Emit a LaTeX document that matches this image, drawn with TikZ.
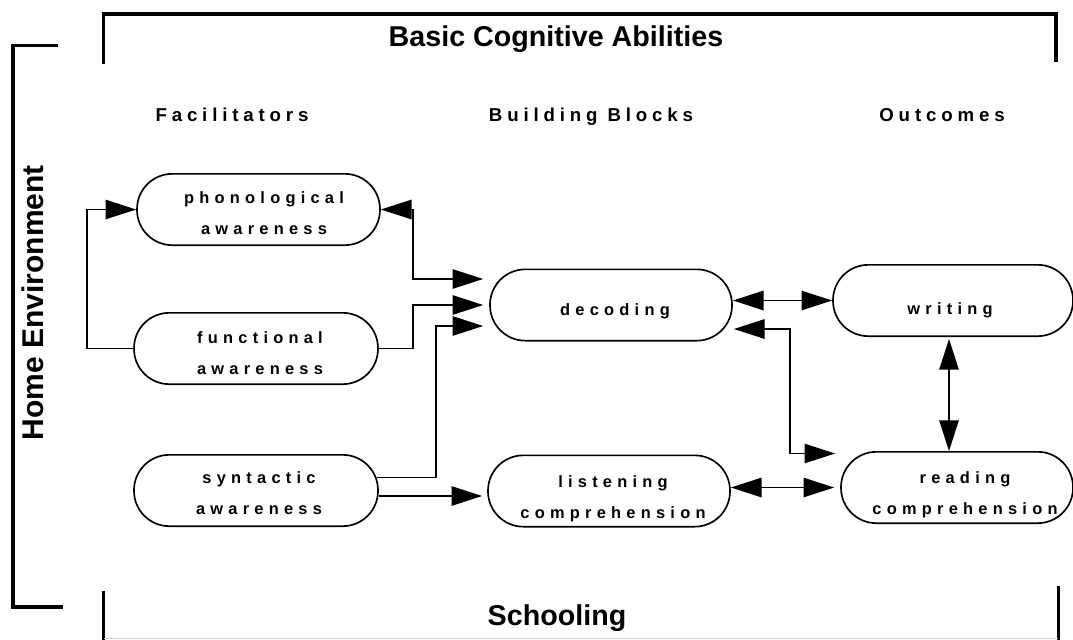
\documentclass[tikz,border=0pt]{standalone}
\usepackage{fontspec}
\setmainfont{Liberation Sans}
\newfontfamily\spacedfont{Liberation Sans}[LetterSpace=32]
\newfontfamily\hdrfont{Liberation Sans}[LetterSpace=26]
\usetikzlibrary{arrows.meta,calc}
\begin{document}
\begin{tikzpicture}[x=0.75pt,y=-0.75pt,
  pill/.style={draw,line width=1.25pt,rounded corners=26.5pt,minimum height=53.5pt,inner sep=0pt},
  ntext/.style={font={\spacedfont\bfseries\fontsize{12.3pt}{23.25pt}\selectfont},align=center,inner sep=0pt},
  hdr/.style={font={\hdrfont\bfseries\fontsize{14pt}{17pt}\selectfont},inner sep=0pt,anchor=base},
  ttl/.style={font={\bfseries\fontsize{21.5pt}{26pt}\selectfont},inner sep=0pt,anchor=base},
  bracket/.style={line width=2.4pt},
  conn/.style={line width=1.35pt},
  >={Triangle[length=23pt,width=14.5pt]}]
\useasboundingbox (0,0) rectangle (1073,639);
% brackets
\draw[bracket] (103.5,64) -- (103.5,14) -- (1056,14) -- (1056,62);
\draw[bracket] (58,45.5) -- (13,45.5) -- (13,607) -- (63,607);
\draw[bracket] (103.5,591) -- (103.5,640);
\draw[bracket] (1058.5,586) -- (1058.5,640);
\draw[gray!35,line width=0.8pt] (104,638.5) -- (1058,638.5);
% titles
\node[ttl] (bca) at (556,46) {Basic Cognitive Abilities};
\node[ttl] (sch) at (557,625) {Schooling};
\node[ttl,rotate=90,font={\bfseries\fontsize{22.5pt}{27pt}\selectfont}] (home) at (43,302.5) {Home Environment};
% headers
\node[hdr] (hfac) at (232,121) {Facilitators};
\node[hdr] (hbb) at (591,121) {Building Blocks};
\node[hdr] (hout) at (942,121) {Outcomes};
% nodes
\node[pill,minimum width=182.25pt] (phon) at (258.5,209.5) {};
\node[pill,minimum width=183pt] (func) at (256,348.5) {};
\node[pill,minimum width=183pt] (synt) at (256,490.5) {};
\node[pill,minimum width=181.5pt] (dec) at (611,305) {};
\node[pill,minimum width=181.5pt] (list) at (609,491) {};
\node[pill,minimum width=180pt] (writ) at (953,300.5) {};
\node[pill,minimum width=174pt] (read) at (957,487.5) {};
% texts
\node[ntext] (phonT) at (264,212.7) {phonological\\awareness};
\node[ntext] (funcT) at (260,352.7) {functional\\awareness};
\node[ntext] (syntT) at (259,493) {syntactic\\awareness};
\node[ntext] (decT) at (615,310.9) {decoding};
\node[ntext] (listT) at (613,498.3) {listening\\comprehension};
\node[ntext] (writT) at (950,310) {writing};
\node[ntext] (readT) at (965,494.7) {reading\\comprehension};
% coordinates
\coordinate (d1) at ($(dec.west)+(-6,-26)$);
\coordinate (d2) at ($(dec.west)+(-6,0)$);
\coordinate (d3) at ($(dec.west)+(-6,21)$);
\coordinate (s1) at ($(synt.east)+(-2,-13)$);
\coordinate (l1) at ($(list.west)+(-5,5)$);
\coordinate (r1) at ($(dec.east)+(1,24)$);
\coordinate (r2) at ($(read.west)+(-5,-34)$);
\coordinate (w1) at ($(writ.south)+(-4,2)$);
\coordinate (w2) at ($(read.north)+(-8,0)$);
% connectors
\draw[conn,->] (func.west) -- ++(-46,0) |- (phon.west);
\draw[conn,<->] (phon.east) -- ++(32,0) |- (d1);
\draw[conn,->] (func.east) -- ++(34,0) |- (d2);
\draw[conn,->] (s1) -- ++(59,0) |- (d3);
\draw[conn,->] (synt.east |- l1) -- (l1);
\draw[conn,<->] (dec.east |- writ.west) -- (writ.west);
\draw[conn,<->] (r1) -- ++(56,0) |- (r2);
\draw[conn,<->] (list.east |- read.west) -- ($(read.west)+(-6,0)$);
\draw[conn,<->] (w1) -- (w2);
\end{tikzpicture}
\end{document}
